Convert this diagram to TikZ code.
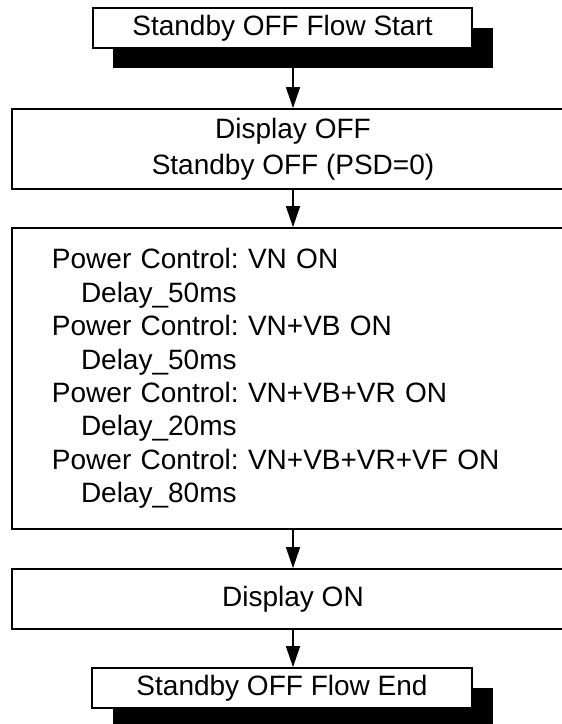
\documentclass[tikz,border=0pt]{standalone}
\usepackage{fontspec}
\setmainfont{Liberation Sans}
\usetikzlibrary{arrows.meta}
\begin{document}
\frenchspacing
\begin{tikzpicture}[x=1pt,y=-1pt,
  box/.style={draw=black, line width=1.8pt, fill=white, inner sep=0pt,
    font=\fontsize{28}{36}\selectfont\frenchspacing, align=center},
  shadowbox/.style={fill=black, inner sep=0pt, minimum width=380pt, minimum height=40pt},
  arr/.style={line width=1.5pt, -{Triangle[length=21pt,width=14pt]}}
]
\useasboundingbox (0,0) rectangle (562,724);
\clip (0,0) rectangle (562,724);
% start
\node[shadowbox] (s1sh) at (303,48) {};
\node[box, minimum width=379pt, minimum height=40pt] (s1) at (282.5,28) {Standby OFF Flow Start};
% box 2
\node[box, minimum width=562pt, minimum height=80pt] (b2) at (293,149)
  {Display OFF\\Standby OFF (PSD=0)};
% box 3
\node[box, minimum width=562pt, minimum height=301pt, text width=482pt, inner xsep=40pt,
  align=left, font=\fontsize{28}{33.4}\selectfont\frenchspacing] (b3) at (293,378.5)
  {Power Control: VN ON\\
   \hspace*{29pt}Delay\_50ms\\
   Power Control: VN+VB ON\\
   \hspace*{29pt}Delay\_50ms\\
   Power Control: VN+VB+VR ON\\
   \hspace*{29pt}Delay\_20ms\\
   Power Control: VN+VB+VR+VF ON\\
   \hspace*{29pt}Delay\_80ms};
% box 4
\node[box, minimum width=562pt, minimum height=60pt] (b4) at (293,599) {Display ON};
% end
\node[shadowbox] (esh) at (303,708) {};
\node[box, minimum width=380pt, minimum height=40pt] (e) at (282,688) {Standby OFF Flow End};
% arrows
\draw[arr] (s1sh.south -| b2.north) -- (b2.north);
\draw[arr] (b2.south) -- (b3.north);
\draw[arr] (b3.south) -- (b4.north);
\draw[arr] (b4.south) -- (b4.south |- e.north);
\end{tikzpicture}
\end{document}
